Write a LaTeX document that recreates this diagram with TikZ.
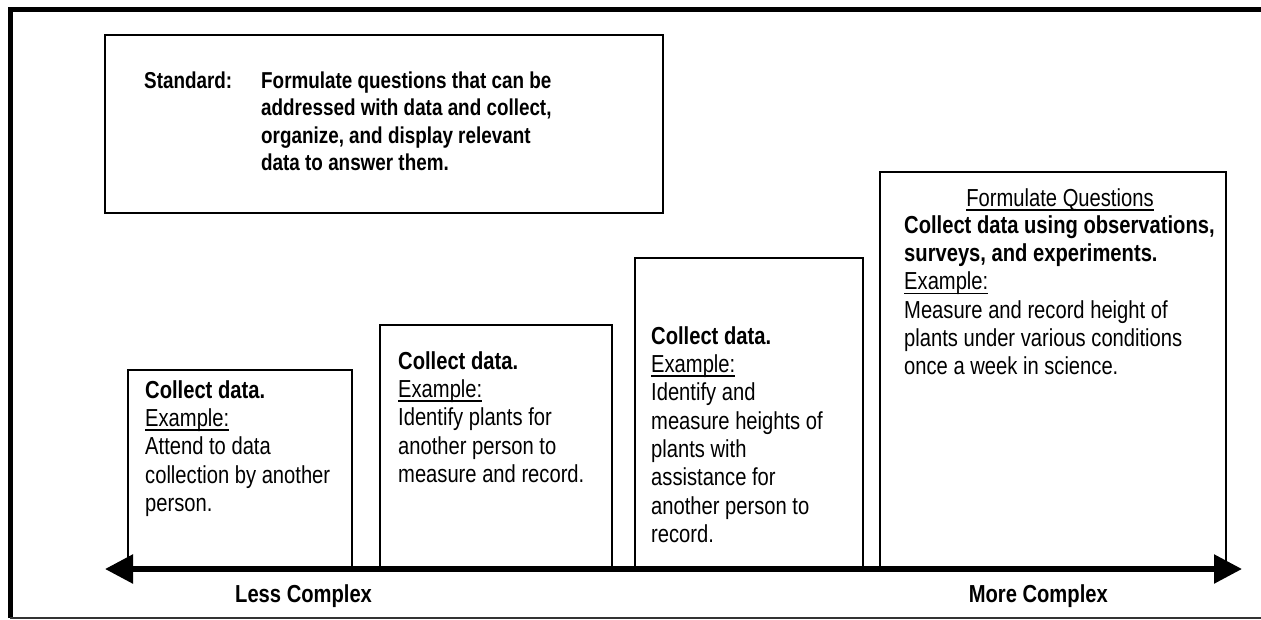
\documentclass[tikz,border=0pt]{standalone}
\usepackage{fontspec}
\setmainfont{Liberation Sans}[FakeStretch=0.82]
\usepackage{tikz}
\usetikzlibrary{arrows.meta, positioning}

\newcommand{\ulword}[1]{\setbox0\hbox{#1}\rlap{\rule[-4.5pt]{\wd0}{1.6pt}}\box0}

\begin{document}
\begin{tikzpicture}[
    x=1pt, y=-1pt,
    panel/.style={rectangle, draw=black, line width=1.6pt, anchor=north west, inner sep=0pt},
    txt/.style={anchor=north west, inner sep=0pt, align=left, font=\fontsize{24.6}{28.3}\selectfont},
    stdtxt/.style={anchor=north west, inner sep=0pt, align=left, font=\bfseries\fontsize{23}{27.5}\selectfont},
    endlabel/.style={inner sep=0pt, font=\bfseries\fontsize{24.6}{28.3}\selectfont},
    scalearr/.style={line width=5.5pt, {Triangle[length=28pt, width=28pt]}-{Triangle[length=28pt, width=28pt]}},
]
\useasboundingbox (0,0) rectangle (1261,619);

\draw[line width=5pt] (1261,9) -- (10,9) -- (10,618);
\draw[line width=1.5pt, black!80] (10,618) -- (1261,618);

\node[panel, minimum width=558pt, minimum height=178pt] (std) at (104,34) {};
\node[panel, minimum width=224pt, minimum height=200pt] (lvlA) at (127,369) {};
\node[panel, minimum width=232pt, minimum height=245pt] (lvlB) at (379,324) {};
\node[panel, minimum width=228pt, minimum height=312pt] (lvlC) at (634,257) {};
\node[panel, minimum width=346pt, minimum height=398pt] (lvlD) at (879,171) {};

\node[stdtxt] (stdlabel) at (144,68.75) {\strut Standard:};
\node[stdtxt] (stdtext) at (261,68.75) {\strut Formulate questions that can be\\addressed with data and collect,\\organize, and display relevant\\data to answer them.};

\node[txt] (lvlAtext) at (145,378.2) {\strut\textbf{Collect data.}\\\ulword{Example:}\\Attend to data\\collection by another\\person.};
\node[txt] (lvlBtext) at (398,349.2) {\strut\textbf{Collect data.}\\\ulword{Example:}\\Identify plants for\\another person to\\measure and record.};
\node[txt] (lvlCtext) at (651,324.2) {\strut\textbf{Collect data.}\\\ulword{Example:}\\Identify and\\measure heights of\\plants with\\assistance for\\another person to\\record.};
\node[txt, anchor=base] (lvlDhead) at (1060,206) {\ulword{Formulate Questions}};
\node[txt] (lvlDtext) at (904,213.2) {\strut\textbf{Collect data using observations,}\\\textbf{surveys, and experiments.}\\\ulword{Example:}\\Measure and record height of\\plants under various conditions\\once a week in science.};

\coordinate (lowend) at (105,569);
\coordinate (highend) at (1242,569);
\draw[scalearr] (lowend) -- (highend);

\node[endlabel, anchor=base west] (less) at (235,602) {Less Complex};
\node[endlabel, anchor=base east] (more) at (1108,602) {More Complex};

\end{tikzpicture}
\end{document}
